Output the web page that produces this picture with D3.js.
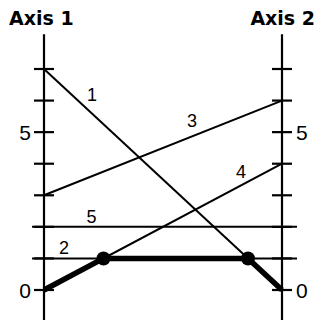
<!DOCTYPE html>
<html>
<head>
<meta charset="utf-8">
<script src="https://cdn.jsdelivr.net/npm/d3@7"></script>
<style>
  body { margin: 0; background: #fff; }
  svg { display: block; }
</style>
</head>
<body>
<svg id="chart" width="314" height="323"></svg>
<script>
// data
const axisNames = ["Axis 1", "Axis 2"];
const lineIds = ["1", "2", "3", "4", "5"];
const axis1Values = [7, 1, 3, 0, 2];
const axis2Values = [0, 1, 6, 4, 2];
const tickValues = [0, 1, 2, 3, 4, 5, 6, 7];
const labeledTicks = [0, 5];
// lines that make up the heavy (lowest) path, left to right
const envelopeIds = ["4", "2", "1"];

// layout
const width = 314, height = 323;
const svg = d3.select("#chart");

const x = d3.scalePoint().domain(axisNames).range([44, 282]);
const y = d3.scaleLinear().domain([0, 7]).range([290, 69]);
const axisExtent = [-0.95, 8.1];

//label placement: fraction along line + pixel offset
const labelPlace = {
    "1": { t: 0.16, dx: 10, dy: -10 },
    "2": { t: 0.084, dx: 0, dy: -11 },
    "3": { t: 0.622, dx: 0, dy: -16 },
    "4": { t: 0.828, dx: 0, dy: -14 },
    "5": { t: 0.2, dx: 0, dy: -10 }
};

const lines = lineIds.map((id, i) => ({ id: id, a: axis1Values[i], b: axis2Values[i] }));

const x1 = x(axisNames[0]), x2 = x(axisNames[1]);

// axes
axisNames.forEach((name, i) => {
    const ax = x(name);
    svg.append("line")
        .attr("x1", ax).attr("x2", ax)
        .attr("y1", y(axisExtent[0])).attr("y2", y(axisExtent[1]))
        .attr("stroke", "#000").attr("stroke-width", 2.2);

    svg.selectAll(null)
        .data(tickValues)
        .enter()
        .append("line")
        .attr("x1", ax - 10).attr("x2", ax + 10)
        .attr("y1", d => y(d)).attr("y2", d => y(d))
        .attr("stroke", "#000").attr("stroke-width", 2.2);

    svg.selectAll(null)
        .data(labeledTicks)
        .enter()
        .append("text")
        .attr("x", i === 0 ? ax - 13 : ax + 14)
        .attr("y", d => y(d))
        .attr("dy", "0.36em")
        .attr("text-anchor", i === 0 ? "end" : "start")
        .style("font-family", "'Liberation Sans', Arial, sans-serif")
        .style("font-size", "21px")
        .text(d => d);

    svg.append("text")
        .attr("x", i === 0 ? 9 : width + 1)
        .attr("y", 25)
        .attr("text-anchor", i === 0 ? "start" : "end")
        .style("font-family", "'DejaVu Sans', sans-serif")
        .style("font-weight", "bold")
        .style("font-size", "19px")
        .text(name);
});

// data lines (horizontal ones run slightly past the axes)
svg.selectAll(".pline")
    .data(lines)
    .enter()
    .append("line")
    .attr("class", "pline")
    .attr("x1", d => d.a === d.b ? x1 - 12 : x1)
    .attr("x2", d => d.a === d.b ? x2 + 15 : x2)
    .attr("y1", d => y(d.a))
    .attr("y2", d => y(d.b))
    .attr("stroke", "#000")
    .attr("stroke-width", 2);

// line labels
svg.selectAll(".plabel")
    .data(lines)
    .enter()
    .append("text")
    .attr("class", "plabel")
    .attr("x", d => x1 + labelPlace[d.id].t * (x2 - x1) + labelPlace[d.id].dx)
    .attr("y", d => y(d.a) + labelPlace[d.id].t * (y(d.b) - y(d.a)) + labelPlace[d.id].dy)
    .attr("dy", "0.36em")
    .attr("text-anchor", "middle")
    .style("font-family", "'Liberation Sans', Arial, sans-serif")
    .style("font-size", "18px")
    .text(d => d.id);

// heavy lower path through the line intersections
function crossing(p, q) {
    // parameter t in [0,1] where lines p and q meet
    const t = (q.a - p.a) / ((p.b - p.a) - (q.b - q.a));
    return [x1 + t * (x2 - x1), y(p.a + t * (p.b - p.a))];
}
const envLines = envelopeIds.map(id => lines.find(l => l.id === id));
const joints = [];
for (let i = 0; i < envLines.length - 1; i++) joints.push(crossing(envLines[i], envLines[i + 1]));
const first = envLines[0], last = envLines[envLines.length - 1];
const envPts = [[x1, y(first.a)], ...joints, [x2, y(last.b)]];

svg.append("path")
    .attr("d", d3.line()(envPts))
    .attr("fill", "none")
    .attr("stroke", "#000")
    .attr("stroke-width", 5.5)
    .attr("stroke-linejoin", "round");

svg.selectAll(".joint")
    .data(joints)
    .enter()
    .append("circle")
    .attr("class", "joint")
    .attr("cx", d => d[0])
    .attr("cy", d => d[1])
    .attr("r", 7)
    .attr("fill", "#000");
</script>
</body>
</html>
